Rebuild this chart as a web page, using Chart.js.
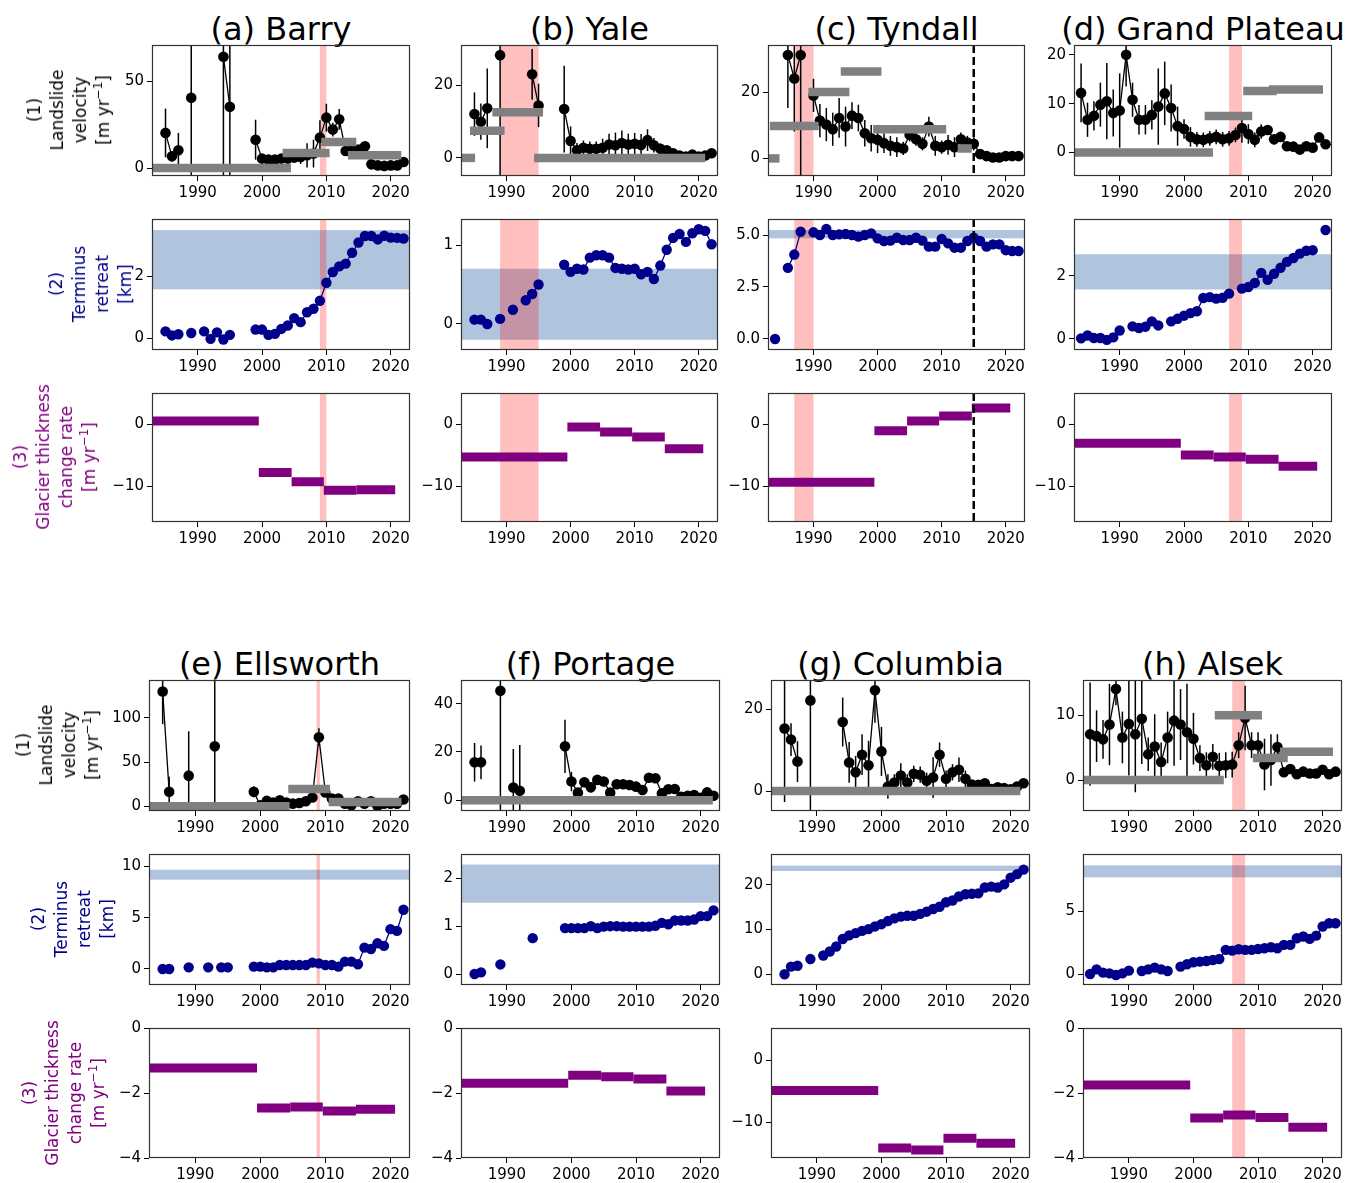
<!DOCTYPE html>
<html>
<head>
<meta charset="utf-8">
<script src="https://cdn.jsdelivr.net/npm/chart.js@4.4.0/dist/chart.umd.min.js"></script>
<style>
  body { margin: 0; background: #fff; width: 1348px; height: 1183px; position: relative; overflow: hidden; font-family: "DejaVu Sans", sans-serif; }
  canvas { position: absolute; }
  .ttl { position: absolute; font-size: 32px; line-height: 32px; transform: translateX(-50%); white-space: nowrap; color: #000; }
  .ylab { position: absolute; font-size: 17px; line-height: 23px; text-align: center; white-space: nowrap; transform: translate(-50%, -50%) rotate(-90deg); }
  .ylab sup { font-size: 0.7em; line-height: 0; }
</style>
</head>
<body>
<script>
// ---- data: [year, velocity, error] for landslide velocity (row 1) ----
const velA = [[1985,20.2,14],[1986,6.7,3],[1987,10.2,10],[1989,40.4,80],[1994,64,80],[1995,35.2,80],[1999,16.3,11.5],[2000,5.4,2],[2001,4.8,2],[2002,4.8,2],[2003,5.4,2],[2004,5.4,2],[2005,6,2.5],[2006,6.3,4],[2007,7.3,7],[2008,8.3,8],[2009,17.5,10],[2010,29,8],[2011,22.1,4],[2012,28,6],[2013,9.8,2],[2014,10.6,2],[2015,10.6,2],[2016,12.5,2],[2017,2.1,1.5],[2018,1.5,1],[2019,1.2,1],[2020,1.5,1],[2021,1.5,1],[2022,3.5,1.5]];
const velB = [[1985,12.1,6],[1986,10,5],[1987,13.7,11],[1989,28.4,40],[1994,23.1,7],[1995,14.5,6],[1999,13.5,12],[2000,4.7,4],[2001,2.1,2],[2002,2.8,2],[2003,2.5,2],[2004,2.5,2],[2005,2.8,2.5],[2006,3.7,3],[2007,3.5,3.5],[2008,4.1,3.5],[2009,3.7,3],[2010,3.9,3],[2011,3.6,3],[2012,4.9,3],[2013,3.5,2],[2014,2.5,1.5],[2015,2.1,1],[2016,1.3,1],[2017,0.65,0.5],[2018,0.4,0.5],[2019,0.9,0.5],[2020,0.4,0.5],[2021,0.65,0.5],[2022,1.3,0.5]];
const velC = [[1986,31.2,16],[1987,24.1,16],[1988,31.2,40],[1990,19,5],[1991,11.4,5],[1992,10.2,5],[1993,8.8,5],[1994,12.2,6],[1995,9.6,6],[1996,12.9,4],[1997,12.2,4],[1998,7.6,4],[1999,6.1,4],[2000,5.6,4],[2001,4.6,3],[2002,3.8,3],[2003,3.4,3],[2004,3,2],[2005,7.1,2],[2006,5.8,2],[2007,4.4,2],[2008,9.6,3],[2009,3.8,3],[2010,3.4,2],[2011,4.1,3],[2012,3.4,3],[2013,5.8,2],[2014,4.8,2],[2015,4.4,2],[2016,1.3,1],[2017,0.7,0.5],[2018,0.3,0.5],[2019,0.3,0.5],[2020,0.7,0.5],[2021,0.7,0.5],[2022,0.7,0.5]];
const velD = [[1984,12.2,6],[1985,6.7,3.5],[1986,7.5,3],[1987,9.8,4.5],[1988,10.5,7.8],[1989,8.1,4.8],[1990,8.6,7.6],[1991,20,6.5],[1992,10.8,3.5],[1993,6.7,3],[1994,6.7,3],[1995,7.7,3],[1996,9.4,7.8],[1997,12.1,6.5],[1998,9.1,4.8],[1999,5.4,4],[2000,4.8,2],[2001,3.2,2],[2002,2.7,1.5],[2003,2.6,1.5],[2004,2.9,1.5],[2005,3.2,1.5],[2006,2.7,1.5],[2007,2.9,1.5],[2008,3.6,1.5],[2009,5,3],[2010,3.8,2],[2011,2.6,1.5],[2012,4.3,1.5],[2013,4.6,1],[2014,2.7,1],[2015,3.2,1],[2016,1.3,1],[2017,1.2,0.5],[2018,0.6,0.5],[2019,1.3,0.5],[2020,1,0.5],[2021,3.1,0.5],[2022,1.7,0.5]];
const velE = [[1985,129.7,37],[1986,16.3,17],[1989,34.6,50],[1993,67.7,100],[1999,16.3,6],[2000,1.1,2],[2001,6.1,2],[2002,4.2,2],[2003,6.8,2],[2004,4.2,2],[2005,3,2],[2006,3.8,2],[2007,5.7,2],[2008,9.9,2],[2009,78,10],[2010,15.6,3],[2011,8.7,2],[2012,8.7,2],[2013,3,2],[2014,1.1,2],[2015,5.7,2],[2016,3,2],[2017,5.7,2],[2018,0.4,2],[2019,3,2],[2020,3,2],[2021,3,2],[2022,7.6,2]];
const velF = [[1985,15.7,8],[1986,15.7,7],[1989,45.3,60],[1991,5.2,16],[1992,3.9,19],[1999,22.3,11],[2000,7.7,4],[2001,3.1,2],[2002,7.4,2],[2003,5.3,2],[2004,8.4,2],[2005,7.7,2],[2006,3.1,2],[2007,6.6,2],[2008,6.6,2],[2009,6.3,2],[2010,5.6,2],[2011,4.2,2],[2012,9.3,2],[2013,9.1,2],[2014,2.8,2],[2015,4.5,1.5],[2016,4.6,1.5],[2017,1.4,1.5],[2018,1.8,1.5],[2019,2.1,1],[2020,1,1],[2021,3.2,1],[2022,1.8,1]];
const velG = [[1985,15.3,18],[1986,12.6,4],[1987,7.2,5],[1989,22.2,30],[1994,16.9,6],[1995,7,5],[1996,4.6,4],[1997,8.9,5],[1998,6.3,6],[1999,24.7,8],[2000,9.7,6],[2001,1.1,3],[2002,2.1,2],[2003,3.8,3],[2004,2.1,2],[2005,4.2,2],[2006,4,2],[2007,2.5,2],[2008,3.3,5],[2009,8.9,3],[2010,3,2],[2011,4.6,2],[2012,5.2,3],[2013,3,2],[2014,1.6,1],[2015,1.5,1],[2016,1.9,1],[2017,0.5,0.5],[2018,0.9,0.5],[2019,0.7,0.5],[2020,0.4,0.5],[2021,1.1,0.5],[2022,1.9,0.5]];
const velH = [[1984,7.1,8],[1985,6.8,4],[1986,6.3,3],[1987,8.6,6.3],[1988,14.1,2.5],[1989,6.6,4],[1990,8.7,8],[1991,7.1,9],[1992,9.5,7],[1993,4,2.6],[1994,5.2,5],[1995,2.8,3],[1996,6.6,4],[1997,9.2,7],[1998,8.6,5.5],[1999,7.4,7.5],[2000,6.4,4],[2001,3.4,2],[2002,2.3,2],[2003,3.6,2],[2004,2.2,2],[2005,2.3,2],[2006,2.4,2],[2007,5.4,2],[2008,9.6,5],[2009,5.4,2],[2010,5.4,2],[2011,2.4,4],[2012,3.1,4],[2013,5.1,2],[2014,1.2,0.7],[2015,1.7,0.7],[2016,0.9,0.7],[2017,1.3,0.7],[2018,1,0.7],[2019,1,0.7],[2020,1.6,0.7],[2021,0.9,0.7],[2022,1.3,0.7]];

// ---- grey period velocities: [start, end, value] ----
const greyA = [[1982.9,2004.5,0],[2003.2,2010.5,8.7],[2009.2,2014.65,15],[2013.35,2021.65,7.3]];
const greyB = [[1982.9,1985.1,0],[1984.3,1989.7,7.5],[1987.8,1995.7,12.6],[1994.3,2021,0]];
const greyC = [[1982.9,1984.7,0],[1983.2,1990.8,9.8],[1989.2,1995.6,20],[1994.25,2000.6,26.2],[1999.3,2010.7,8.8],[2012.5,2014.7,3]];
const greyD = [[1982.9,2004.5,0],[2003.2,2010.6,7.5],[2009.2,2014.4,12.6],[2013.2,2021.6,12.9]];
const greyE = [[1982.9,2004.5,0],[2004.3,2010.7,19.4],[2010.5,2021.7,5]];
const greyF = [[1982.9,2021.9,0]];
const greyG = [[1982.9,2021.5,0]];
const greyH = [[1982.9,2004.7,0],[2003.3,2010.6,10.05],[2009.2,2014.6,3.4],[2013.4,2021.6,4.4]];

// ---- terminus retreat [year, km] (row 2) ----
const retA = [[1985,0.22],[1986,0.09],[1987,0.13],[1989,0.17],[1991,0.22],[1992,-0.02],[1993,0.19],[1994,-0.04],[1995,0.11],[1999,0.28],[2000,0.28],[2001,0.11],[2002,0.14],[2003,0.30],[2004,0.41],[2005,0.65],[2006,0.52],[2007,0.84],[2008,0.95],[2009,1.21],[2010,1.79],[2011,2.14],[2012,2.32],[2013,2.41],[2014,2.76],[2015,3.09],[2016,3.30],[2017,3.30],[2018,3.19],[2019,3.31],[2020,3.25],[2021,3.24],[2022,3.22]];
const retB = [[1985,0.055],[1986,0.055],[1987,0],[1989,0.064],[1991,0.18],[1993,0.30],[1994,0.38],[1995,0.50],[1999,0.75],[2000,0.66],[2001,0.70],[2002,0.69],[2003,0.84],[2004,0.87],[2005,0.87],[2006,0.84],[2007,0.71],[2008,0.70],[2009,0.69],[2010,0.70],[2011,0.63],[2012,0.66],[2013,0.57],[2014,0.74],[2015,0.94],[2016,1.09],[2017,1.14],[2018,1.04],[2019,1.15],[2020,1.20],[2021,1.18],[2022,1.01]];
const retC = [[1984,0],[1986,3.42],[1987,4.06],[1988,5.16],[1990,5.13],[1991,5.0],[1992,5.29],[1993,5.0],[1994,5.03],[1995,5.05],[1996,5.0],[1997,4.92],[1998,5.0],[1999,5.08],[2000,4.84],[2001,4.71],[2002,4.73],[2003,4.87],[2004,4.76],[2005,4.76],[2006,4.87],[2007,4.73],[2008,4.44],[2009,4.44],[2010,4.81],[2011,4.6],[2012,4.39],[2013,4.39],[2014,4.71],[2015,4.87],[2016,4.71],[2017,4.44],[2018,4.55],[2019,4.55],[2020,4.27],[2021,4.23],[2022,4.23]];
const retD = [[1984,0.02],[1985,0.11],[1986,0.03],[1987,0.03],[1988,-0.03],[1989,0.05],[1990,0.27],[1992,0.40],[1993,0.35],[1994,0.39],[1995,0.56],[1996,0.43],[1998,0.56],[1999,0.64],[2000,0.74],[2001,0.82],[2002,0.88],[2003,1.30],[2004,1.33],[2005,1.28],[2006,1.31],[2007,1.44],[2009,1.60],[2010,1.65],[2011,1.78],[2012,2.10],[2013,1.88],[2014,2.07],[2015,2.26],[2016,2.45],[2017,2.57],[2018,2.71],[2019,2.80],[2020,2.82],[2022,3.46]];
const retE = [[1985,0],[1986,0],[1989,0.16],[1992,0.16],[1994,0.16],[1995,0.16],[1999,0.23],[2000,0.23],[2001,0.16],[2002,0.16],[2003,0.39],[2004,0.39],[2005,0.39],[2006,0.39],[2007,0.39],[2008,0.62],[2009,0.55],[2010,0.39],[2011,0.39],[2012,0.23],[2013,0.72],[2014,0.72],[2015,0.46],[2016,2.08],[2017,1.95],[2018,2.5],[2019,2.25],[2020,3.88],[2021,3.71],[2022,5.77]];
const retF = [[1985,0],[1986,0.035],[1989,0.20],[1994,0.75],[1999,0.96],[2000,0.96],[2001,0.96],[2002,0.96],[2003,1.0],[2004,0.96],[2005,0.99],[2006,1.0],[2007,1.0],[2008,0.99],[2009,0.99],[2010,0.99],[2011,0.99],[2012,0.99],[2013,1.01],[2014,1.07],[2015,1.04],[2016,1.12],[2017,1.12],[2018,1.12],[2019,1.14],[2020,1.21],[2021,1.21],[2022,1.33]];
const retG = [[1985,0],[1986,1.7],[1987,1.9],[1989,3.4],[1991,4.2],[1992,5.1],[1993,6.2],[1994,7.9],[1995,8.7],[1996,9.2],[1997,9.7],[1998,10.1],[1999,10.7],[2000,11.2],[2001,11.9],[2002,12.5],[2003,12.9],[2004,13.1],[2005,13.1],[2006,13.5],[2007,14.0],[2008,14.6],[2009,15.1],[2010,16.1],[2011,16.5],[2012,17.4],[2013,17.9],[2014,18.0],[2015,18.1],[2016,19.4],[2017,19.6],[2018,19.4],[2019,20.1],[2020,21.6],[2021,22.4],[2022,23.4]];
const retH = [[1984,0],[1985,0.37],[1986,0.11],[1987,0.05],[1988,-0.08],[1989,0.05],[1990,0.27],[1992,0.24],[1993,0.37],[1994,0.51],[1995,0.37],[1996,0.24],[1998,0.59],[1999,0.78],[2000,0.94],[2001,0.99],[2002,1.04],[2003,1.12],[2004,1.2],[2005,1.93],[2006,1.87],[2007,1.98],[2008,1.93],[2009,1.93],[2010,2.0],[2011,2.06],[2012,2.14],[2013,2.06],[2014,2.33],[2015,2.33],[2016,2.86],[2017,3.0],[2018,2.81],[2019,3.07],[2020,3.8],[2021,4.06],[2022,4.06]];

// ---- blue band (terminus range) [low, high] ----
const bands = [[1.58,3.49],[-0.20,0.70],[4.84,5.24],[1.57,2.69],[8.70,9.67],[1.49,2.29],[23.1,24.3],[7.73,8.69]];

// ---- glacier thickness change rate [start, end, value] (row 3) ----
const thickA = [[1982.9,1999.5,0.5],[1999.5,2004.6,-7.8],[2004.6,2009.6,-9.3],[2009.6,2014.7,-10.7],[2014.7,2020.7,-10.6]];
const thickB = [[1982.9,1999.5,-5.3],[1999.5,2004.6,-0.5],[2004.6,2009.6,-1.3],[2009.6,2014.7,-2.1],[2014.7,2020.7,-4.0]];
const thickC = [[1982.9,1999.5,-9.4],[1999.5,2004.6,-1.1],[2004.6,2009.6,0.5],[2009.6,2014.7,1.3],[2014.7,2020.7,2.6]];
const thickD = [[1982.9,1999.5,-3.1],[1999.5,2004.6,-5.0],[2004.6,2009.6,-5.3],[2009.6,2014.7,-5.7],[2014.7,2020.7,-6.8]];
const thickE = [[1982.9,1999.5,-1.23],[1999.5,2004.6,-2.46],[2004.6,2009.6,-2.43],[2009.6,2014.7,-2.55],[2014.7,2020.7,-2.5]];
const thickF = [[1982.9,1999.5,-1.7],[1999.5,2004.6,-1.45],[2004.6,2009.6,-1.5],[2009.6,2014.7,-1.57],[2014.7,2020.7,-1.94]];
const thickG = [[1982.9,1999.5,-4.9],[1999.5,2004.6,-14.2],[2004.6,2009.6,-14.5],[2009.6,2014.7,-12.6],[2014.7,2020.7,-13.4]];
const thickH = [[1982.9,1999.5,-1.75],[1999.5,2004.6,-2.77],[2004.6,2009.6,-2.68],[2009.6,2014.7,-2.75],[2014.7,2020.7,-3.05]];

// ---- event spans / markers ----
const redSpans = [[2009,2010],[1989,1995],[1987,1990],[2007,2009],[2008.65,2009.15],null,null,[2006,2008]];
const dashedYears = [null,null,2015,null,null,null,null,null];

const titles = ['(a) Barry','(b) Yale','(c) Tyndall','(d) Grand Plateau','(e) Ellsworth','(f) Portage','(g) Columbia','(h) Alsek'];
const xTicks = [1990, 2000, 2010, 2020];
const velTicks = [[0,50],[0,20],[0,20],[0,10,20],[0,50,100],[0,20,40],[0,20],[0,10]];
const retTicks = [[0,2],[0,1],[0,2.5,5],[0,2],[0,5,10],[0,1,2],[0,10,20],[0,5]];
const thkTicks = [[-10,0],[-10,0],[-10,0],[-10,0],[-4,-2,0],[-4,-2,0],[-10,0],[-4,-2,0]];
const velLim = [[-4.6,70.8],[-5,31.2],[-5.3,34.2],[-4.8,22],[-5.3,142.6],[-4.5,49.8],[-4.9,27.2],[-4.8,15.5]];
const retLim = [[-0.38,3.85],[-0.33,1.33],[-0.53,5.77],[-0.35,3.81],[-1.56,11.2],[-0.23,2.51],[-2.4,26.9],[-0.88,9.6]];
const thkLim = [[-15.8,5],[-15.8,5],[-15.8,5],[-15.8,5],[-4,0],[-4,0],[-15.8,5.2],[-4,0]];

const vel = [velA, velB, velC, velD, velE, velF, velG, velH];
const grey = [greyA, greyB, greyC, greyD, greyE, greyF, greyG, greyH];
const ret = [retA, retB, retC, retD, retE, retF, retG, retH];
const thick = [thickA, thickB, thickC, thickD, thickE, thickF, thickG, thickH];

// ---- layout (pixels) ----
const XMIN = 1982.9, XMAX = 2023.0;
const YW = 62, XH = 32, PT = 12, PR = 10;
const GROUPS = [
  { cols: [[152,410],[461,718],[768,1025],[1074,1332]], rows: [[45,176],[219,350],[393,522]], titleTop: 13 },
  { cols: [[149,410],[461,720],[771,1030],[1083,1342]], rows: [[680,811],[854,985],[1028,1158]], titleTop: 648 }
];
const YLABELS = [
  [[69,110],[91,284],[55,457]],
  [[58,745],[73,919],[64,1093]]
];
const SUP = '[m yr<sup>\u22121</sup>]';
const YLAB_TEXT = [
  ['#000', ['(1)', 'Landslide', 'velocity', SUP]],
  ['#00008b', ['(2)', 'Terminus', 'retreat', '[km]']],
  ['#800080', ['(3)', 'Glacier thickness', 'change rate', SUP]]
];

const EXTRAS = new Map();

Chart.register({
  id: 'panelExtras',
  beforeDatasetsDraw(chart) {
    const o = EXTRAS.get(chart.canvas);
    const { ctx, chartArea: a, scales: { x, y } } = chart;
    ctx.save();
    ctx.beginPath(); ctx.rect(a.left, a.top, a.width, a.height); ctx.clip();
    if (o.band) {
      const y0 = y.getPixelForValue(o.band[1]), y1 = y.getPixelForValue(o.band[0]);
      ctx.fillStyle = '#b0c4de';
      ctx.fillRect(a.left, y0, a.width, y1 - y0);
    }
    if (o.red) {
      const x0 = x.getPixelForValue(o.red[0]), x1 = x.getPixelForValue(o.red[1]);
      ctx.fillStyle = 'rgba(255,0,0,0.25)';
      ctx.fillRect(x0, a.top, x1 - x0, a.height);
    }
    ctx.restore();
  },
  beforeDatasetDraw(chart, args) {
    const o = EXTRAS.get(chart.canvas);
    if (!o.errs || args.index !== chart.data.datasets.length - 1) return;
    const { ctx, chartArea: a, scales: { x, y } } = chart;
    ctx.save();
    ctx.beginPath(); ctx.rect(a.left, a.top, a.width, a.height); ctx.clip();
    ctx.strokeStyle = '#000';
    ctx.lineWidth = 1.5;
    o.errs.forEach(r => {
      const px = x.getPixelForValue(r[0]);
      ctx.beginPath();
      ctx.moveTo(px, y.getPixelForValue(r[1] - r[2]));
      ctx.lineTo(px, y.getPixelForValue(r[1] + r[2]));
      ctx.stroke();
    });
    ctx.restore();
  },
  afterDatasetsDraw(chart) {
    const o = EXTRAS.get(chart.canvas);
    const { ctx, chartArea: a, scales: { x } } = chart;
    ctx.save();
    if (o.vline != null) {
      const px = x.getPixelForValue(o.vline);
      ctx.strokeStyle = '#000';
      ctx.lineWidth = 2.5;
      ctx.setLineDash([8, 4]);
      ctx.beginPath(); ctx.moveTo(px, a.top); ctx.lineTo(px, a.bottom); ctx.stroke();
      ctx.setLineDash([]);
    }
    ctx.strokeStyle = '#333';
    ctx.lineWidth = 1.2;
    ctx.strokeRect(Math.round(a.left) + 0.5, Math.round(a.top) + 0.5, Math.round(a.width) - 1, Math.round(a.height) - 1);
    ctx.restore();
  }
});

function fmt(list) {
  const dec = list.some(v => !Number.isInteger(v));
  return v => (dec ? v.toFixed(1) : String(v)).replace('-', '\u2212');
}

function axis(lim, ticks, isX) {
  return {
    type: 'linear',
    position: isX ? 'bottom' : 'left',
    min: lim[0], max: lim[1],
    afterBuildTicks: s => { s.ticks = ticks.map(v => ({ value: v })); },
    afterFit: s => { if (isX) s.height = XH; else s.width = YW; },
    grid: { display: true, drawOnChartArea: false, drawTicks: true, tickLength: 5, tickColor: '#000', lineWidth: 1 },
    border: { display: false },
    ticks: { color: '#000', font: { family: 'DejaVu Sans', size: 15 }, padding: 3, maxRotation: 0, autoSkip: false, callback: fmt(ticks) }
  };
}

function series(rows) {
  const out = [];
  rows.forEach((r, i) => {
    if (i && r[0] - rows[i - 1][0] > 1) out.push({ x: r[0] - 0.5, y: null });
    out.push({ x: r[0], y: r[1] });
  });
  return out;
}

function segs(list, color, width) {
  return list.map(b => ({
    data: [{ x: b[0], y: b[2] }, { x: b[1], y: b[2] }],
    borderColor: color, borderWidth: width, borderCapStyle: 'butt',
    pointRadius: 0, pointHoverRadius: 0, fill: false
  }));
}

function panel(L, R, T, B, datasets, lim, ticks, extras) {
  const cv = document.createElement('canvas');
  const w = YW + (R - L) + PR, h = PT + (B - T) + XH;
  cv.width = w; cv.height = h;
  cv.style.left = (L - YW) + 'px';
  cv.style.top = (T - PT) + 'px';
  cv.style.width = w + 'px';
  cv.style.height = h + 'px';
  document.body.appendChild(cv);
  EXTRAS.set(cv, extras);
  new Chart(cv, {
    type: 'line',
    data: { datasets },
    options: {
      responsive: false, animation: false, devicePixelRatio: 1,
      layout: { padding: { top: PT, right: PR, left: 0, bottom: 0 } },
      plugins: { legend: { display: false }, tooltip: { enabled: false } },
      scales: { x: axis([XMIN, XMAX], xTicks, true), y: axis(lim, ticks, false) }
    }
  });
}

for (let i = 0; i < 8; i++) {
  const g = GROUPS[i < 4 ? 0 : 1];
  const [L, R] = g.cols[i % 4];

  const t = document.createElement('div');
  t.className = 'ttl';
  t.textContent = titles[i];
  t.style.left = ((L + R) / 2) + 'px';
  t.style.top = g.titleTop + 'px';
  document.body.appendChild(t);

  // row 1: landslide velocity
  panel(L, R, g.rows[0][0], g.rows[0][1], [
    ...segs(grey[i], '#808080', 8.5),
    { data: series(vel[i]), borderColor: '#000', borderWidth: 1.3, pointRadius: 5.3, pointBackgroundColor: '#000', pointBorderWidth: 0, pointHoverRadius: 5.3, tension: 0 }
  ], velLim[i], velTicks[i], { red: redSpans[i], vline: dashedYears[i], errs: vel[i] });

  // row 2: terminus retreat
  panel(L, R, g.rows[1][0], g.rows[1][1], [
    { data: series(ret[i]), borderColor: '#00008b', borderWidth: 1.3, pointRadius: 5.2, pointBackgroundColor: '#00008b', pointBorderWidth: 0, pointHoverRadius: 5.2, tension: 0 }
  ], retLim[i], retTicks[i], { red: redSpans[i], vline: dashedYears[i], band: bands[i] });

  // row 3: glacier thickness change
  panel(L, R, g.rows[2][0], g.rows[2][1], segs(thick[i], '#800080', 9), thkLim[i], thkTicks[i], { red: redSpans[i], vline: dashedYears[i] });
}

GROUPS.forEach((g, gi) => {
  YLABELS[gi].forEach((p, r) => {
    const d = document.createElement('div');
    d.className = 'ylab';
    d.style.left = p[0] + 'px';
    d.style.top = p[1] + 'px';
    d.style.color = YLAB_TEXT[r][0];
    d.innerHTML = YLAB_TEXT[r][1].join('<br>');
    document.body.appendChild(d);
  });
});
</script>
</body>
</html>
